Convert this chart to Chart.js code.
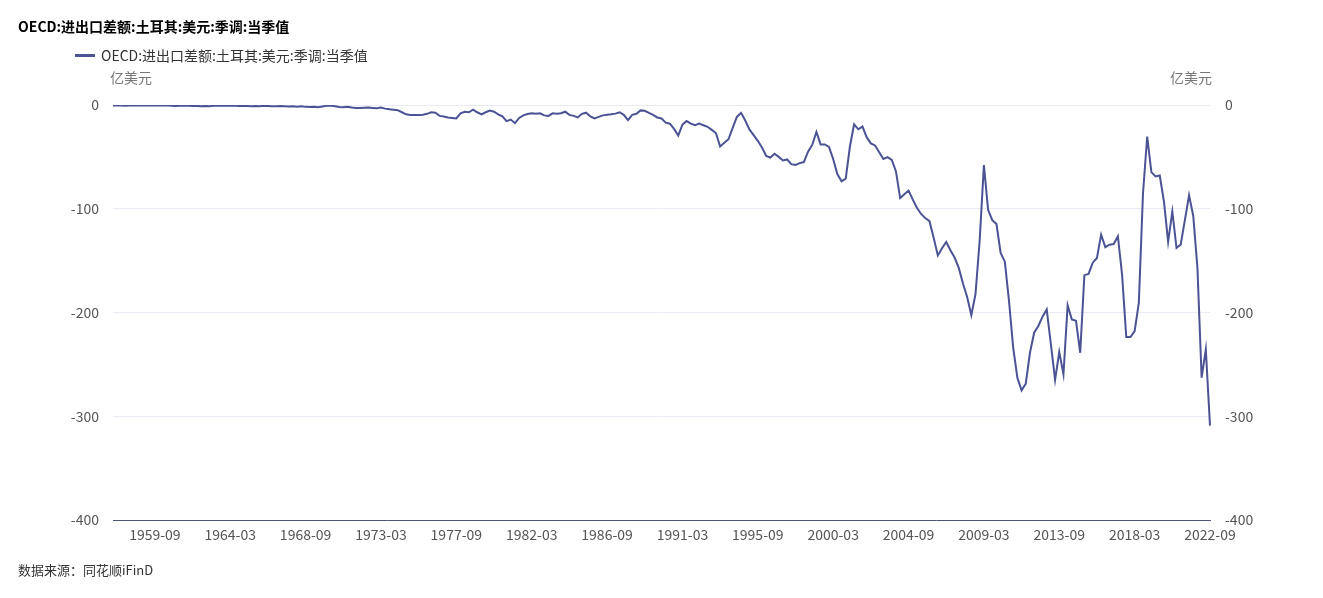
<!DOCTYPE html>
<html>
<head>
<meta charset="utf-8">
<script src="https://cdn.jsdelivr.net/npm/chart.js@4.4.1/dist/chart.umd.min.js"></script>
<style>
  html, body { margin: 0; padding: 0; background: #fff; }
  body { width: 1323px; height: 598px; position: relative; overflow: hidden; font-family: "Noto Sans CJK SC", "Noto Sans", sans-serif; }
  #wrap { position: absolute; left: 0; top: 0; width: 1323px; height: 598px; }
  .txt { position: absolute; white-space: nowrap; line-height: 1; }
  #title { left: 18px; top: 19px; font-size: 14px; font-weight: bold; color: #000; }
  #legend { left: 75px; top: 48px; font-size: 14px; color: #333; }
  #legend .swatch { display: inline-block; width: 20px; height: 3px; background: #4b5394; vertical-align: middle; margin-right: 6px; position: relative; top: -2px; }
  .unit { top: 70px; font-size: 14px; color: #777; }
  #unitL { left: 110px; }
  #unitR { left: 1170px; }
  #source { left: 18px; top: 563px; font-size: 13px; color: #333; }
</style>
</head>
<body>
<div id="wrap"><canvas id="chart" width="1323" height="598"></canvas></div>
<div class="txt" id="title">OECD:进出口差额:土耳其:美元:季调:当季值</div>
<div class="txt" id="legend"><span class="swatch"></span>OECD:进出口差额:土耳其:美元:季调:当季值</div>
<div class="txt unit" id="unitL">亿美元</div>
<div class="txt unit" id="unitR">亿美元</div>
<div class="txt" id="source">数据来源：同花顺iFinD</div>
<script>
// quarterly, 1957-03 .. 2022-09
const startYear = 1957;
const seriesName = 'OECD:进出口差额:土耳其:美元:季调:当季值';

const values1957 = [
  -0.5, -0.6, -0.4, -0.7, -0.5, -0.3, -0.4, -0.2, -0.5, -0.4, -0.3,
  -0.5, -0.6, -0.4, -0.8, -0.9, -0.7, -0.6, -0.8, -1.0, -0.9,
  -1.1, -0.9, -1.2, -0.8, -0.6, -0.7, -0.5, -0.8, -0.6, -0.9,
  -0.8, -1.0, -1.2, -0.9, -1.1, -0.8, -1.0, -1.3, -1.1, -1.0,
  -1.2, -1.5, -1.3, -1.6, -1.2, -1.8, -2.0, -1.7, -2.2, -1.5,
  -0.8, -0.5, -1.2, -2.0, -2.2, -1.8, -2.5, -2.8, -3.0, -2.6,
  -2.4, -2.8, -3.2, -2.5, -3.5, -4.0, -4.5, -5.0, -7.0, -9.0
];
const values1974 = [
  -9.6, -9.6, -9.6, -9.4, -8.5, -7.0, -7.5, -10.5, -11.0, -12.0,
  -12.5, -13.0, -8.0, -6.5, -7.0, -4.5, -7.0, -9.0, -7.0, -5.4,
  -6.5, -9.0, -11.0, -15.5, -14.0, -17.5, -12.5, -10.0, -8.7, -8.0,
  -8.5, -8.0, -10.0, -10.5, -8.0, -8.5, -8.0, -6.5, -9.5, -10.5,
  -12.0, -8.5, -7.4, -11.0, -13.0, -11.5, -10.0, -9.5, -9.0, -8.3,
  -7.0, -9.5, -14.5, -9.5, -8.5, -5.2, -5.6, -7.5, -9.5, -12.0
];
const values1989 = [
  -13.0, -17.0, -18.0, -23.0, -29.5, -19.0, -15.5, -18.0, -19.5, -18.0,
  -19.5, -21.0, -24.0, -27.0, -40.0, -36.5, -33.0, -22.0, -11.5, -7.5,
  -15.0, -23.5, -29.0, -34.5, -41.0, -49.0, -50.6, -47.0, -50.0, -53.5,
  -52.5, -57.0, -57.7, -56.0, -55.0, -45.0, -38.5, -26.0, -38.0, -38.0,
  -40.5, -52.0, -66.6, -73.5, -71.0, -40.0, -18.6, -23.4, -20.8, -31.0,
  -37.0, -39.0, -45.5, -52.0, -50.3, -53.0, -64.0, -89.7, -86.0, -82.5
];
const values2004 = [
  -91.0, -99.0, -105.0, -109.0, -112.0, -128.0, -145.0, -138.0, -132.0, -140.0,
  -147.0, -157.0, -172.0, -185.0, -202.6, -182.0, -130.0, -58.0, -101.0, -111.0,
  -114.7, -142.6, -151.0, -189.0, -234.0, -263.0, -275.0, -268.6, -238.8, -219.5,
  -213.0, -204.0, -197.0, -230.8, -265.0, -238.0, -259.6, -193.0, -206.7, -208.0,
  -238.8, -164.0, -162.8, -152.0, -147.4, -125.0, -137.0, -134.6, -134.0, -126.6,
  -163.5, -223.7, -223.7, -218.0, -190.7, -85.0, -30.4, -64.7, -68.9, -68.0,
  -93.0, -132.0, -102.6, -137.8, -134.6, -111.0, -87.0, -107.0, -157.0, -262.8,
  -235.6, -309.0
];
const values = values1957.concat(values1974, values1989, values2004);

const quarterMonths = ['03', '06', '09', '12'];
const categories = values.map(function(v, i) {
  return (startYear + Math.floor(i / 4)) + '-' + quarterMonths[i % 4];
});
const tickEvery = 18;
const tickOffset = (values.length - 1) % tickEvery;

const lineColor = '#4b5394';
const tickFont = { family: '"Noto Sans CJK SC", "Noto Sans", sans-serif', size: 14 };

const ctx = document.getElementById('chart').getContext('2d');
new Chart(ctx, {
  type: 'line',
  data: {
    labels: categories,
    datasets: [{
      label: seriesName,
      data: values,
      borderColor: lineColor,
      backgroundColor: lineColor,
      borderWidth: 2,
      pointRadius: 0,
      tension: 0,
      fill: false,
      yAxisID: 'y'
    }]
  },
  options: {
    responsive: false,
    animation: false,
    layout: { padding: { left: 0, right: 0, top: 105, bottom: 38 } },
    plugins: { legend: { display: false }, tooltip: { enabled: false } },
    scales: {
      x: {
        type: 'category',
        offset: false,
        grid: { display: false, drawTicks: false },
        border: { display: true, color: '#4d5575', width: 1 },
        ticks: {
          autoSkip: false, maxRotation: 0, padding: 6, color: '#555', font: tickFont,
          callback: function(v, i) { return i % tickEvery === tickOffset ? categories[i] : null; }
        },
        afterFit: function(s) { s.height = 40; }
      },
      y: {
        position: 'left', min: -400, max: 0,
        grid: { color: '#e9eaf3', drawTicks: false },
        border: { display: false },
        ticks: { stepSize: 100, padding: 14, color: '#555', font: tickFont },
        afterFit: function(s) { s.width = 113; }
      },
      y2: {
        position: 'right', min: -400, max: 0,
        grid: { display: false, drawTicks: false },
        border: { display: false },
        ticks: { stepSize: 100, padding: 15, color: '#555', font: tickFont },
        afterFit: function(s) { s.width = 113; }
      }
    }
  }
});
</script>
</body>
</html>
